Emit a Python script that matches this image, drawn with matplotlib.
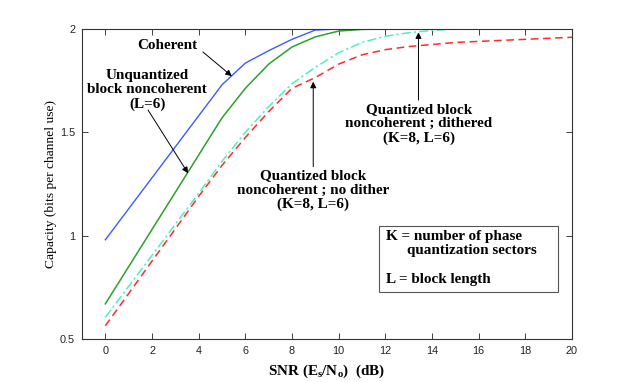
import matplotlib
matplotlib.use("Agg")
import matplotlib.pyplot as plt
from matplotlib.patches import Rectangle

snr_db = list(range(0, 21))
coherent = [0.98, 1.13, 1.28, 1.43, 1.58, 1.73, 1.835, 1.895, 1.95, 1.995,
            2.0, 2.0, 2.0, 2.0, 2.0, 2.0, 2.0, 2.0, 2.0, 2.0, 2.0]
unquantized = [0.67, 0.85, 1.03, 1.21, 1.39, 1.57, 1.713, 1.83, 1.913, 1.962,
               1.99, 1.998, 2.0, 2.0, 2.0, 2.0, 2.0, 2.0, 2.0, 2.0, 2.0]
dithered = [0.605, 0.755, 0.905, 1.055, 1.205, 1.36, 1.50, 1.625, 1.735, 1.815,
            1.885, 1.935, 1.965, 1.982, 1.993, 2.0, 2.0, 2.0, 2.0, 2.0, 2.0]
no_dither = [0.564, 0.72, 0.877, 1.033, 1.19, 1.34, 1.475, 1.60, 1.713, 1.765,
             1.83, 1.875, 1.90, 1.915, 1.925, 1.935, 1.94, 1.945, 1.95, 1.955, 1.96]

xticks = list(range(0, 21, 2))
yticks = [0.5, 1, 1.5, 2]

serif = "Liberation Serif"
sans = "Liberation Sans"

plt.rcParams["mathtext.fontset"] = "custom"
plt.rcParams["mathtext.rm"] = "Liberation Serif:bold"
plt.rcParams["mathtext.bf"] = "Liberation Serif:bold"
plt.rcParams["mathtext.it"] = "Liberation Serif:bold"

fig = plt.figure(figsize=(6.32, 3.82), dpi=100)
ax = fig.add_axes([82/632, 43/382, 490/632, 310/382])

ax.plot(snr_db, coherent, color="#3c5cff", lw=1.0)
ax.plot(snr_db, unquantized, color="#2ca02c", lw=1.1)
ax.plot(snr_db, dithered, color="#50f0c0", lw=1.1, linestyle=(0, (6, 2, 1.5, 2)))
ax.plot(snr_db, no_dither, color="#ff2a2a", lw=1.1, linestyle=(0, (5, 3)))

ax.set_xlim(-1, 20)
ax.set_ylim(0.5, 2)
ax.set_xticks(xticks)
ax.set_xticklabels([str(t) for t in xticks])
ax.set_yticks(yticks)
ax.set_yticklabels(["0.5", "1", "1.5", "2"])
ax.tick_params(direction="in", length=4, width=0.6, top=True, right=True,
               labelsize=7.8, colors="#222222", pad=5)
for lab in ax.get_xticklabels() + ax.get_yticklabels():
    lab.set_family(sans)
for s in ax.spines.values():
    s.set_linewidth(0.8)
    s.set_color("#333333")

ax.set_xlabel(r"SNR (E$_{\mathbf{s}}$/N$_{\mathbf{o}}$)  (dB)", family=serif,
              fontweight="bold", fontsize=10.9)
ax.xaxis.set_label_coords(0.5, -0.075)
ax.set_ylabel("Capacity (bits per channel use)", family=serif, fontsize=9.7)
ax.yaxis.set_label_coords(-0.052, 0.5)

tkw = dict(family=serif, fontweight="bold", fontsize=10.9, ha="center", va="center",
           linespacing=1.1)
akw = dict(arrowstyle="-|>", color="black", lw=0.7, mutation_scale=9, shrinkA=0, shrinkB=0)

ax.text(2.67, 1.922, "Coherent", **tkw)
ax.annotate("", xy=(5.42, 1.772), xytext=(4.18, 1.889), arrowprops=akw)

ax.text(1.79, 1.705, "Unquantized\nblock noncoherent\n(L=6)", **tkw)
ax.annotate("", xy=(3.545, 1.302), xytext=(1.83, 1.608), arrowprops=akw)

ax.text(8.9, 1.22, "Quantized block\nnoncoherent ; no dither\n(K=8, L=6)", **tkw)
ax.annotate("", xy=(8.91, 1.745), xytext=(8.91, 1.334), arrowprops=akw)

ax.text(13.44, 1.54, "Quantized block\nnoncoherent ; dithered\n(K=8, L=6)", **tkw)
ax.annotate("", xy=(13.42, 1.984), xytext=(13.42, 1.656), arrowprops=akw)

ax.add_patch(Rectangle((0.606, 0.1526), 0.366, 0.213, transform=ax.transAxes,
                       facecolor="white", edgecolor="#555555", lw=0.8, zorder=3))
bkw = dict(family=serif, fontweight="bold", fontsize=10.9, va="center", ha="left",
           transform=ax.transAxes, zorder=4)
ax.text(0.620, 0.330, "K = number of phase", **bkw)
ax.text(0.664, 0.285, "quantization sectors", **bkw)
ax.text(0.620, 0.1926, "L = block length", **bkw)

fig.savefig("out.png", dpi=100)
